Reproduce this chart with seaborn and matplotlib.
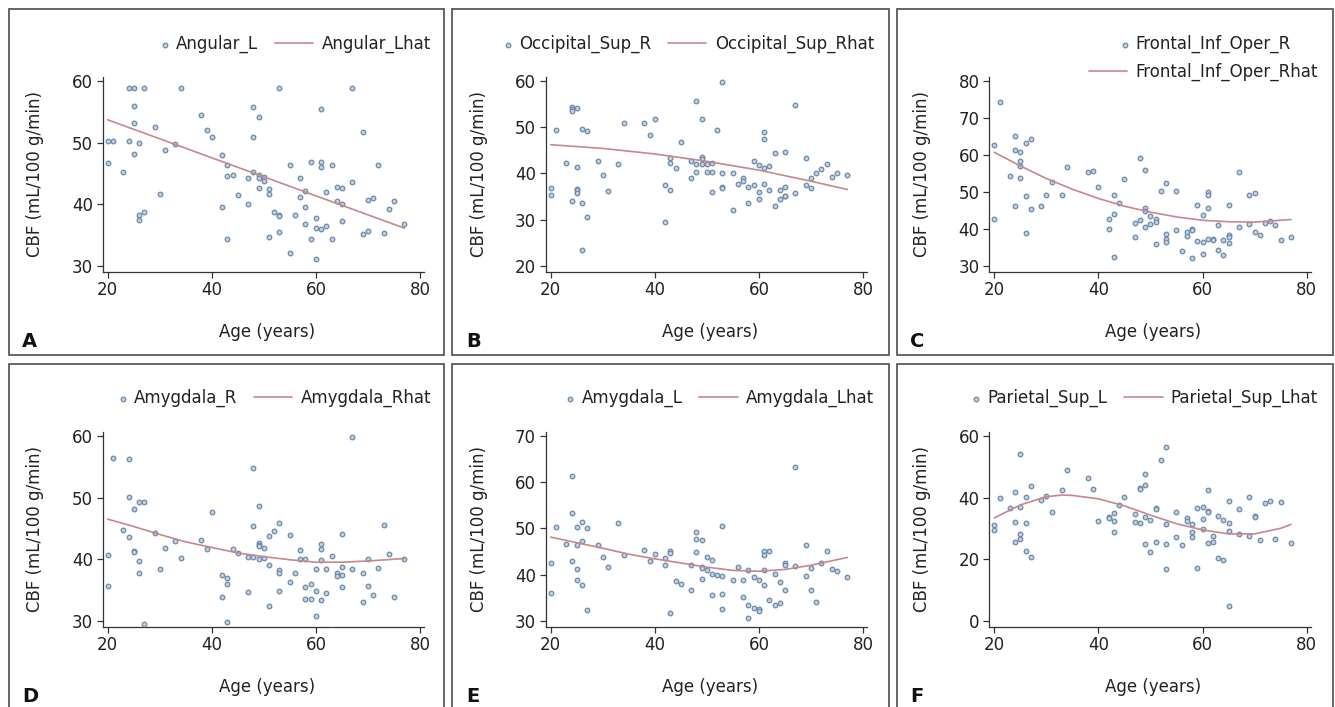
import numpy as np
import pandas as pd
import matplotlib
matplotlib.use('Agg')
import matplotlib.pyplot as plt
import seaborn as sns
from matplotlib.legend_handler import HandlerPathCollection
from matplotlib.collections import PathCollection
from matplotlib.patches import Rectangle

sns.set_style('ticks')
plt.rcParams['font.family'] = ['DejaVu Sans']

# ---------------- data ----------------
x_ticks = [20, 40, 60, 80]

A_age = [20,20,21,23,24,24,25,25,25,25,26,26,26,27,27,29,30,31,33,34,38,39,40,42,42,43,43,43,44,45,47,47,48,48,48,49,49,49,49,50,50,51,51,51,52,53,53,53,53,55,55,56,57,57,58,58,58,59,59,60,60,60,61,61,61,61,62,62,63,63,64,64,65,65,65,67,67,69,69,70,70,71,72,73,74,75,77]
A_cbf = [50.2,46.6,50.2,45.2,58.9,50.3,58.9,55.9,53.1,48.2,50.0,38.3,37.5,58.9,38.8,52.6,41.7,48.8,49.8,58.9,54.4,52.1,50.9,47.9,39.5,46.3,44.6,34.3,44.8,41.5,44.3,40.1,55.7,50.9,45.3,54.1,44.8,44.3,42.6,44.4,43.8,42.4,41.6,34.6,38.8,58.9,38.3,38.0,35.4,46.3,32.0,38.2,44.2,41.2,42.1,39.5,36.8,46.9,34.3,37.8,36.1,31.1,55.4,46.9,46.0,36.0,41.9,36.4,46.4,34.4,42.8,40.5,42.6,40.0,37.2,58.9,43.6,51.7,35.2,40.7,35.7,41.0,46.3,35.3,39.2,40.5,36.8]
A_fit_age = [20, 77]
A_fit = [53.7, 36.1]
A_yticks = [30, 40, 50, 60]

B_age = [20,20,21,23,24,24,24,24,25,25,25,25,25,26,26,26,27,27,29,30,31,33,34,38,39,40,42,42,43,43,43,44,45,47,47,48,48,48,49,49,49,49,50,50,51,51,51,52,53,53,53,53,55,55,56,57,57,58,58,59,59,60,60,60,61,61,61,61,62,62,63,63,64,64,65,65,65,65,67,67,69,69,70,70,71,72,73,74,75,77]
B_cbf = [36.8,35.3,49.4,42.2,54.4,53.9,53.6,34.1,54.2,41.4,36.6,36.3,35.8,49.5,33.5,23.4,49.2,30.5,42.7,39.6,36.2,42.0,50.8,50.8,48.2,51.8,37.4,29.5,43.3,42.2,36.5,41.2,46.7,42.7,39.0,55.7,42.0,40.2,51.7,43.6,43.0,42.0,42.0,40.2,42.3,40.4,36.0,49.4,59.7,40.1,37.0,36.9,40.1,32.0,37.6,38.9,38.3,37.0,33.6,42.6,37.5,41.9,36.0,34.5,48.9,47.5,41.2,37.7,41.5,36.5,44.4,32.9,36.5,34.4,44.6,37.1,35.2,35.1,54.7,35.8,43.3,37.5,38.9,36.8,40.1,41.0,42.0,39.2,40.0,39.7]
B_fit_age = [20, 30, 40, 50, 60, 70, 77]
B_fit = [46.2, 45.4, 44.2, 42.6, 40.7, 38.3, 36.5]
B_yticks = [20, 30, 40, 50, 60]

C_age = [20,20,21,23,24,24,24,25,25,25,25,26,26,26,27,27,29,30,31,33,34,38,39,40,42,42,43,43,43,44,45,47,47,48,48,49,49,49,49,50,50,51,51,51,52,53,53,53,53,55,55,56,57,57,58,58,58,59,59,60,60,60,61,61,61,61,62,62,63,63,64,64,65,65,65,65,67,67,69,69,70,70,71,72,73,74,75,77]
C_cbf = [62.8,42.7,74.4,54.4,65.1,61.2,46.2,60.8,58.4,57.1,53.7,63.1,49.0,38.9,64.4,45.3,46.2,49.2,52.6,49.2,56.8,55.5,55.6,51.2,42.6,40.0,49.2,44.1,32.4,47.1,53.5,41.5,37.8,59.2,42.3,55.9,45.7,44.8,40.6,43.4,41.4,42.7,41.7,35.8,50.1,52.3,38.5,37.3,36.5,50.3,39.6,34.0,39.1,38.1,39.8,39.6,32.0,46.5,36.8,43.8,36.5,33.2,50.0,49.2,45.7,37.2,37.1,36.9,40.9,34.3,37.0,32.8,46.5,38.3,37.9,36.1,55.3,40.6,49.2,41.2,49.6,39.1,38.4,41.6,42.1,40.9,37.0,37.8]
C_fit_age = [20, 25, 30, 35, 40, 45, 50, 55, 60, 65, 70, 77]
C_fit = [60.7, 57.0, 53.6, 50.7, 48.2, 46.1, 44.5, 43.2, 42.3, 41.9, 41.8, 42.5]
C_yticks = [30, 40, 50, 60, 70, 80]

D_age = [20,20,21,23,24,24,24,25,25,25,26,26,26,27,27,29,30,31,33,34,38,39,40,42,42,43,43,43,44,45,47,47,48,48,48,49,49,49,49,49,50,50,51,51,51,52,53,53,53,53,55,55,56,57,57,58,58,58,59,59,60,60,60,61,61,61,61,62,62,63,63,64,64,65,65,65,65,67,67,69,69,70,70,71,72,73,74,75,77]
D_cbf = [40.6,35.7,56.4,44.7,56.2,50.1,43.6,48.2,41.3,41.1,49.2,39.7,37.7,49.2,29.4,44.2,38.4,41.8,43.0,40.2,43.1,41.6,47.7,37.5,33.9,37.0,36.0,29.8,41.6,41.0,40.3,34.7,54.8,45.4,40.3,48.6,42.6,42.3,42.2,40.0,41.8,40.2,43.8,39.1,32.4,44.5,45.9,38.2,37.7,34.8,43.9,36.3,37.8,41.5,40.0,40.0,35.5,33.5,36.0,33.5,38.4,34.8,30.7,42.5,41.7,39.9,33.3,38.4,34.5,40.5,28.5,37.7,37.3,44.1,38.8,37.4,35.4,59.9,38.4,37.7,33.0,40.0,35.7,34.2,38.5,45.5,40.9,33.8,40.1]
D_fit_age = [20, 25, 30, 35, 40, 45, 50, 55, 60, 65, 70, 77]
D_fit = [46.5, 45.3, 44.0, 42.8, 41.9, 41.0, 40.4, 39.9, 39.5, 39.5, 39.7, 40.1]
D_yticks = [30, 40, 50, 60]

E_age = [20,20,21,23,24,24,24,25,25,25,25,26,26,26,27,27,29,30,31,33,34,38,39,40,42,42,43,43,43,44,45,47,47,48,48,48,49,49,49,49,50,50,51,51,51,52,53,53,53,53,55,56,57,57,58,58,58,59,59,60,60,60,61,61,61,61,62,62,63,63,64,64,65,65,65,67,67,69,69,70,70,71,72,73,74,75,77]
E_cbf = [42.5,36.1,50.4,46.6,61.3,53.4,42.9,50.3,46.5,41.3,38.9,51.3,47.3,37.7,50.1,32.4,46.3,43.9,41.7,51.2,44.2,45.3,43.0,44.4,43.6,42.1,45.2,44.6,31.6,38.6,38.0,42.0,36.6,49.2,47.8,44.9,47.4,41.7,41.4,39.1,43.8,41.0,43.2,40.1,35.5,39.9,50.6,39.7,35.8,32.5,38.9,41.6,38.9,35.2,41.0,33.5,30.6,39.5,32.7,38.8,32.5,32.0,45.1,44.3,41.0,37.7,45.0,34.4,40.1,33.3,38.4,33.9,42.6,42.0,36.6,63.3,41.9,46.5,39.7,41.5,36.7,34.1,42.4,45.2,41.2,40.8,39.5]
E_fit_age = [20, 25, 30, 35, 40, 45, 50, 55, 60, 65, 70, 77]
E_fit = [48.1, 46.9, 45.7, 44.4, 43.4, 42.5, 41.6, 40.9, 40.7, 41.1, 42.0, 43.7]
E_yticks = [30, 40, 50, 60, 70]

F_age = [20,20,21,23,24,24,24,25,25,25,25,26,26,26,27,27,29,30,31,33,34,38,39,40,42,42,43,43,43,44,45,47,47,48,48,48,49,49,49,49,50,50,51,51,51,52,53,53,53,53,55,55,56,57,57,58,58,58,59,59,60,60,60,61,61,61,61,62,62,63,63,64,64,65,65,65,65,67,67,69,69,70,70,71,72,73,74,75,77]
F_cbf = [31.1,29.5,40.0,36.5,41.8,32.2,25.6,54.3,36.8,28.3,26.4,40.3,31.7,22.7,43.6,20.8,39.1,40.5,35.3,42.6,48.8,46.5,42.9,32.5,33.7,33.4,35.0,32.5,28.7,37.6,40.3,34.8,32.2,43.2,42.8,31.7,47.5,44.1,33.8,25.0,32.8,22.4,36.7,36.4,25.5,52.2,56.3,31.3,24.8,16.8,35.4,27.1,24.7,33.2,32.4,31.5,28.7,27.3,36.7,17.2,36.8,33.1,29.8,42.5,35.7,35.4,25.1,27.4,25.5,34.0,20.3,32.7,19.8,38.9,31.9,29.2,4.8,36.3,28.2,40.1,27.6,34.0,33.7,26.3,38.1,38.9,26.7,38.6,25.3]
F_fit_age = [20, 25, 30, 33, 35, 40, 45, 50, 55, 60, 65, 70, 75, 77]
F_fit = [33.4, 37.6, 40.3, 40.8, 40.7, 39.6, 37.3, 34.3, 31.5, 29.5, 28.2, 28.2, 30.0, 31.3]
F_yticks = [0, 20, 40, 60]

letters = ['A', 'B', 'C', 'D', 'E', 'F']
point_labels = ['Angular_L', 'Occipital_Sup_R', 'Frontal_Inf_Oper_R',
                'Amygdala_R', 'Amygdala_L', 'Parietal_Sup_L']
line_labels = ['Angular_Lhat', 'Occipital_Sup_Rhat', 'Frontal_Inf_Oper_Rhat',
               'Amygdala_Rhat', 'Amygdala_Lhat', 'Parietal_Sup_Lhat']
ages = [A_age, B_age, C_age, D_age, E_age, F_age]
cbfs = [A_cbf, B_cbf, C_cbf, D_cbf, E_cbf, F_cbf]
fit_ages = [A_fit_age, B_fit_age, C_fit_age, D_fit_age, E_fit_age, F_fit_age]
fits = [A_fit, B_fit, C_fit, D_fit, E_fit, F_fit]
yticks_all = [A_yticks, B_yticks, C_yticks, D_yticks, E_yticks, F_yticks]

# ---------------- layout (pixels) ----------------
FW, FH = 1335, 707
fig = plt.figure(figsize=(FW / 100, FH / 100), dpi=100)

ax_lefts = [102.7, 545.7, 989.3]
ax_tops = [76.7, 431.7]
AW, AH = 321.3, 195.0
box_x = [(9, 444), (452, 889), (897, 1333)]
box_y = [(9, 355), (364, 712)]
leg_right = [431, 874, 1318]
leg_top = [35, 389]
letter_x = [22, 466, 910]
letter_y = [347, 702]
ylab_x = [44, 488, 931]

TXT = '#222222'
PT_FACE = '#c3d1e0'
PT_EDGE = '#6c8bab'
LINE_C = '#c8868d'


class RightDot(HandlerPathCollection):
    def get_xdata(self, legend, xdescent, ydescent, width, height, fontsize):
        x = [-xdescent + width - 2.0]
        return x, x


def px2fig(x, y):
    return x / FW, 1 - y / FH


for i in range(6):
    r, c = divmod(i, 3)
    # panel frame
    x0, x1 = box_x[c]
    y0, y1 = box_y[r]
    fig.patches.append(Rectangle((x0 / FW, 1 - y1 / FH), (x1 - x0) / FW, (y1 - y0) / FH,
                                 transform=fig.transFigure, fill=False,
                                 edgecolor='#5a5a5a', linewidth=1.3, zorder=0))

    left = ax_lefts[c]
    top = ax_tops[r]
    ax = fig.add_axes([left / FW, 1 - (top + AH) / FH, AW / FW, AH / FH])
    ax.set_facecolor('none')

    df_pts = pd.DataFrame({'Age': ages[i], 'CBF': cbfs[i]})
    df_fit = pd.DataFrame({'Age': fit_ages[i], 'CBF': fits[i]})

    sns.scatterplot(data=df_pts, x='Age', y='CBF', ax=ax, s=11,
                    color=PT_FACE, edgecolor=PT_EDGE, linewidth=0.9,
                    label=point_labels[i], zorder=3)
    sns.lineplot(data=df_fit, x='Age', y='CBF', ax=ax, color=LINE_C,
                 linewidth=1.2, label=line_labels[i], zorder=4)

    # limits: ticks sit slightly inside the spines
    xt = x_ticks
    xs = (xt[-1] - xt[0]) / 312.3
    ax.set_xlim(xt[0] - 5 * xs, xt[-1] + 4 * xs)
    yt = yticks_all[i]
    ys = (yt[-1] - yt[0]) / 184.7
    ax.set_ylim(yt[0] - 6 * ys, yt[-1] + 4.3 * ys)
    ax.set_xticks(xt)
    ax.set_yticks(yt)

    for s in ['top', 'right']:
        ax.spines[s].set_visible(False)
    for s in ['left', 'bottom']:
        ax.spines[s].set_color('#333333')
        ax.spines[s].set_linewidth(0.9)
    ax.tick_params(direction='out', length=4, width=0.9, color='#333333',
                   labelsize=12, labelcolor=TXT, pad=3)

    ax.set_xlabel('Age (years)', fontsize=12, color=TXT)
    ax.set_ylabel('CBF (mL/100 g/min)', fontsize=12, color=TXT)
    ax.xaxis.set_label_coords(0.51, -0.265)
    ax.yaxis.set_label_coords((ylab_x[c] - left) / AW, 0.5)

    ncol = 1 if letters[i] == 'C' else 2
    lx, ly = px2fig(leg_right[c], leg_top[r])
    ax.legend(loc='upper right', bbox_to_anchor=(lx, ly),
              bbox_transform=fig.transFigure, ncol=ncol, frameon=False,
              fontsize=12, handlelength=2.3, handletextpad=0.5,
              columnspacing=1.0, labelspacing=0.55, borderpad=0,
              borderaxespad=0, labelcolor=TXT,
              handler_map={PathCollection: RightDot()})

    tx, ty = px2fig(letter_x[c], letter_y[r])
    fig.text(tx, ty, letters[i], fontsize=14, fontweight='bold', color='#111111',
             ha='left', va='baseline')

fig.savefig('out.png', dpi=100)
